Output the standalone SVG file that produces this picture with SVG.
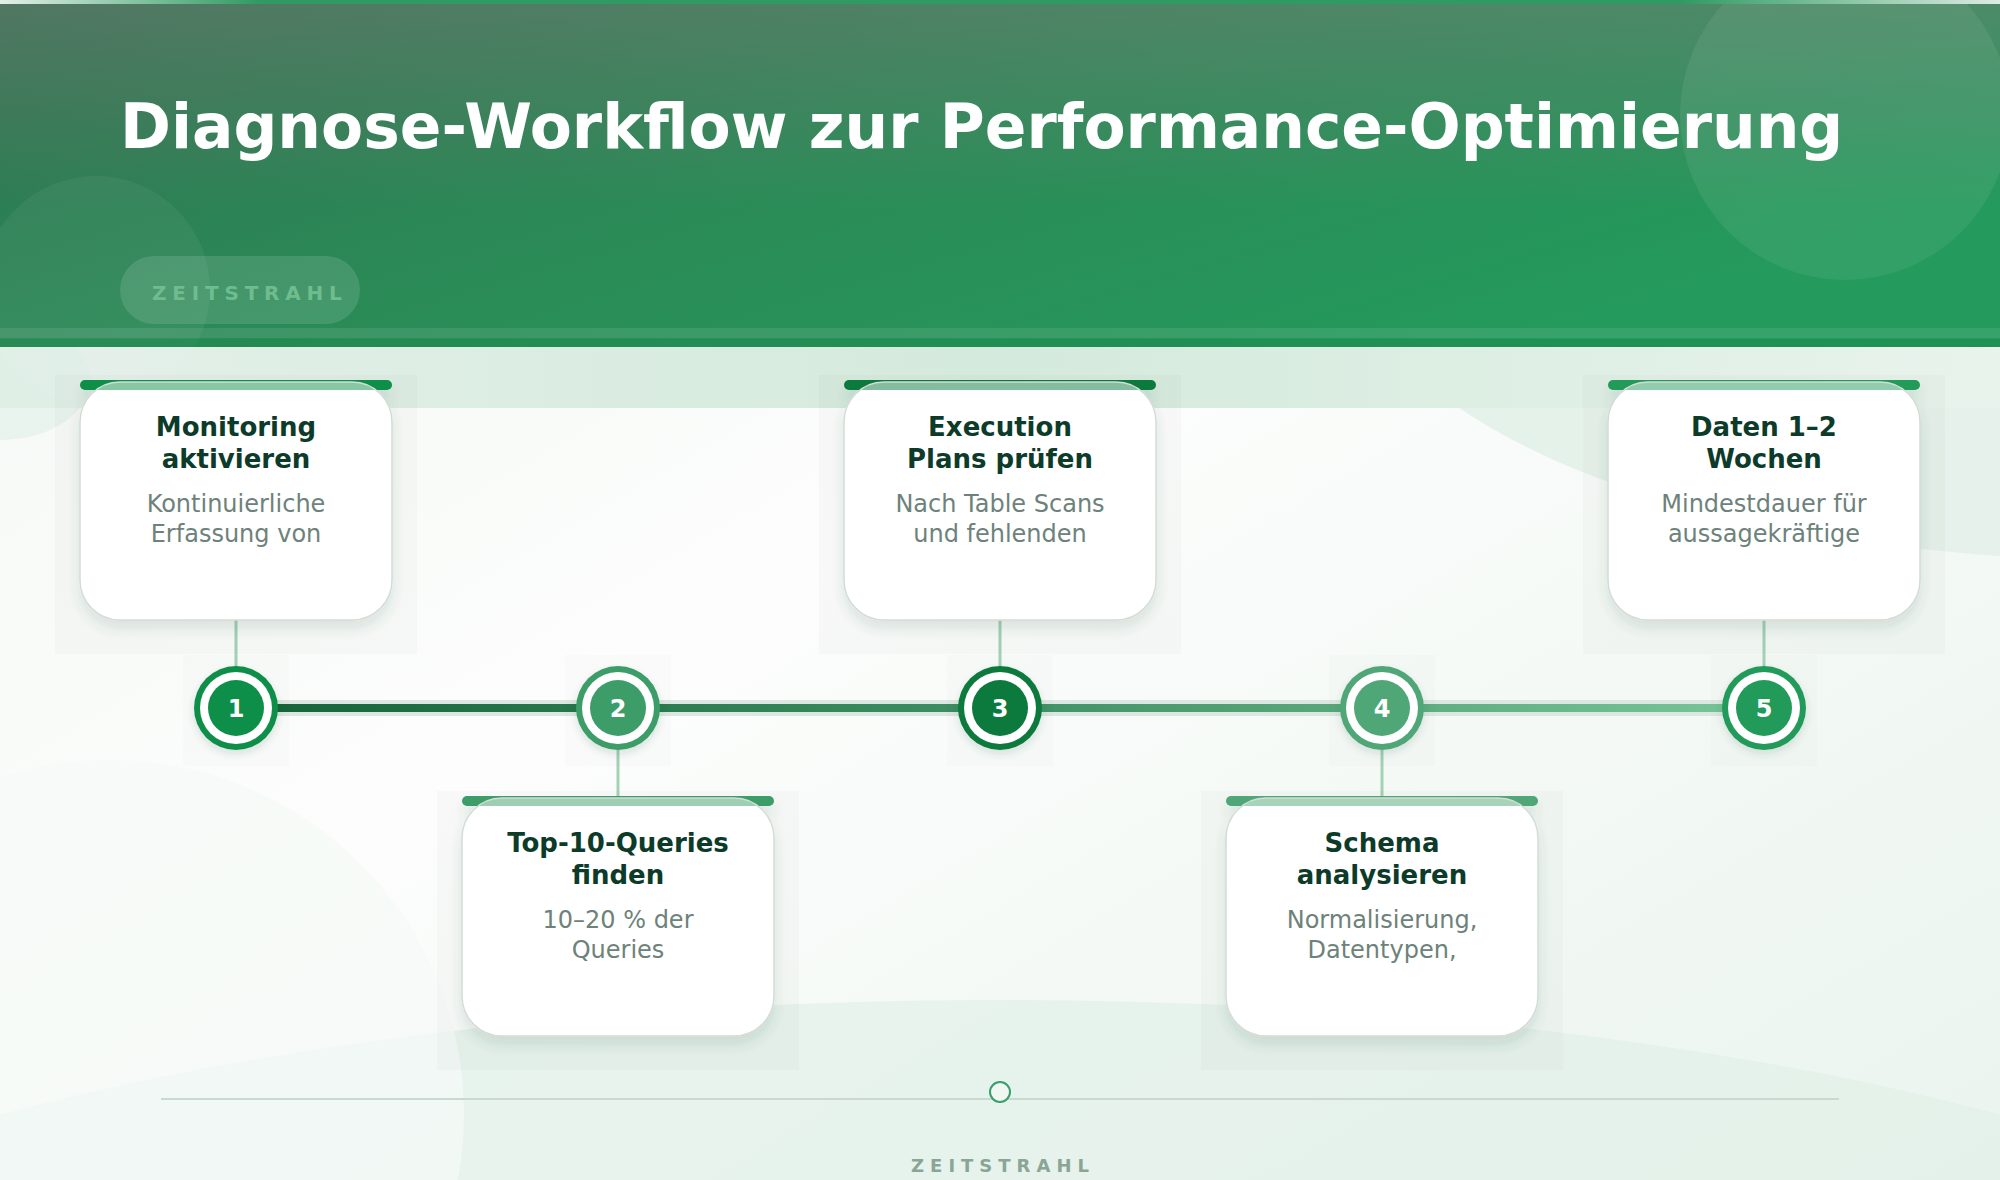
<svg xmlns="http://www.w3.org/2000/svg" width="2000" height="1180" viewBox="0 0 2000 1180">
<defs>
<linearGradient id="bgG" x1="0" y1="0" x2="1" y2="1">
<stop offset="0" stop-color="#f3f7f4"/><stop offset="0.45" stop-color="#fcfdfc"/><stop offset="1" stop-color="#eaf4ee"/>
</linearGradient>
<linearGradient id="hdG" x1="0" y1="0" x2="1" y2="0.6">
<stop offset="0" stop-color="#2f7150"/><stop offset="0.5" stop-color="#2b8a57"/><stop offset="1" stop-color="#249a5c"/>
</linearGradient>
<linearGradient id="hdTop" x1="0" y1="0" x2="0" y2="1">
<stop offset="0" stop-color="#8a8080" stop-opacity="0.38"/><stop offset="0.6" stop-color="#8a8080" stop-opacity="0"/>
</linearGradient>
<linearGradient id="topLine" x1="0" y1="0" x2="1" y2="0">
<stop offset="0" stop-color="#e3f0e8"/><stop offset="0.13" stop-color="#2f9a62"/><stop offset="0.84" stop-color="#2f9a62"/><stop offset="1" stop-color="#dcece2"/>
</linearGradient>
<linearGradient id="bandG" x1="0" y1="0" x2="1" y2="0">
<stop offset="0" stop-color="#e4f0e9"/><stop offset="0.5" stop-color="#d4eadc"/><stop offset="1" stop-color="#e8f3ec"/>
</linearGradient>
<linearGradient id="lineG" gradientUnits="userSpaceOnUse" x1="236" y1="0" x2="1764" y2="0">
<stop offset="0" stop-color="#136336"/><stop offset="0.5" stop-color="#3f9062"/><stop offset="1" stop-color="#78c699"/>
</linearGradient>
<linearGradient id="cardFill" x1="0" y1="0" x2="0" y2="1">
<stop offset="0" stop-color="#ffffff" stop-opacity="0.5"/><stop offset="0.034" stop-color="#ffffff" stop-opacity="0.5"/><stop offset="0.036" stop-color="#ffffff" stop-opacity="1"/><stop offset="1" stop-color="#ffffff" stop-opacity="1"/>
</linearGradient>
<filter id="cs" x="-8%" y="-2%" width="116%" height="116%">
<feFlood flood-color="#1d4a33" flood-opacity="0.018" result="bg"/>
<feGaussianBlur in="SourceAlpha" stdDeviation="7" result="b"/>
<feOffset in="b" dy="8" result="o"/>
<feFlood flood-color="#2a4a3a" flood-opacity="0.13"/>
<feComposite in2="o" operator="in" result="s"/>
<feMerge><feMergeNode in="bg"/><feMergeNode in="s"/><feMergeNode in="SourceGraphic"/></feMerge>
</filter>
<filter id="ns" x="-13%" y="-13%" width="126%" height="131%">
<feFlood flood-color="#1d4a33" flood-opacity="0.012" result="bg"/>
<feGaussianBlur in="SourceAlpha" stdDeviation="4" result="b"/>
<feOffset in="b" dy="4" result="o"/>
<feFlood flood-color="#2a4a3a" flood-opacity="0.15"/>
<feComposite in2="o" operator="in" result="s"/>
<feMerge><feMergeNode in="bg"/><feMergeNode in="s"/><feMergeNode in="SourceGraphic"/></feMerge>
</filter>
</defs>
<style>
.ttl{font-family:"DejaVu Sans",sans-serif;font-weight:bold;font-size:26px;fill:#0d3b2a;text-anchor:middle}
.dsc{font-family:"DejaVu Sans",sans-serif;font-size:24px;fill:#6d827a;text-anchor:middle}
.num{font-family:"DejaVu Sans",sans-serif;font-weight:bold;font-size:24px;fill:#ffffff;text-anchor:middle}
.card{fill:url(#cardFill);stroke:#d3dcd7;stroke-width:1.5}
.stem{stroke:#a3d2b7;stroke-width:3}
</style>

<!-- background -->
<rect x="0" y="0" width="2000" height="1180" fill="url(#bgG)"/>
<path d="M1385,347 Q1560,525 2000,556 L2000,347 Z" fill="#e2f0e7" opacity="0.85"/>
<ellipse cx="1000" cy="1450" rx="1500" ry="450" fill="#e2f0e8" opacity="0.75"/>
<circle cx="110" cy="1114" r="354" fill="#f6f9f7" opacity="0.75"/>
<rect x="0" y="347" width="2000" height="61" fill="url(#bandG)"/>
<ellipse cx="0" cy="380" rx="90" ry="60" fill="#dcede3" opacity="0.5"/>

<!-- header -->
<rect x="0" y="0" width="2000" height="347" fill="url(#hdG)"/>
<rect x="0" y="0" width="2000" height="347" fill="url(#hdTop)"/>
<circle cx="96" cy="290" r="114" fill="#ffffff" opacity="0.05"/>
<circle cx="1845" cy="115" r="165" fill="#ffffff" opacity="0.07"/>
<rect x="0" y="328" width="2000" height="10" fill="#ffffff" opacity="0.09"/>
<rect x="0" y="339" width="2000" height="8" fill="#1e8a50" opacity="0.55"/>
<rect x="0" y="0" width="2000" height="4" fill="url(#topLine)"/>
<text x="120" y="148" font-family="DejaVu Sans, sans-serif" font-weight="bold" font-size="61.4" fill="#ffffff">Diagnose-Workflow zur Performance-Optimierung</text>
<rect x="120" y="256" width="240" height="68" rx="34" fill="#ffffff" opacity="0.12"/>
<text x="152" y="300" font-family="DejaVu Sans, sans-serif" font-weight="bold" font-size="20" letter-spacing="5.8" fill="#6fbc8f">ZEITSTRAHL</text>

<!-- connectors -->
<g id="connectors">
<line x1="236" y1="708" x2="1764" y2="708" stroke="#dde7e1" stroke-width="16"/>
<line x1="236" y1="708" x2="1764" y2="708" stroke="url(#lineG)" stroke-width="8"/>
<line class="stem" x1="236" y1="620" x2="236" y2="666"/>
<line class="stem" x1="618" y1="750" x2="618" y2="796"/>
<line class="stem" x1="1000" y1="620" x2="1000" y2="666"/>
<line class="stem" x1="1382" y1="750" x2="1382" y2="796"/>
<line class="stem" x1="1764" y1="620" x2="1764" y2="666"/>
</g>

<!-- step 1 -->
<g id="step1">
<g filter="url(#cs)">
<rect x="80" y="380" width="312" height="10" rx="5" fill="#0f8f4a"/>
<rect class="card" x="80" y="382" width="312" height="238" rx="40"/>
</g>
<text class="ttl" x="236" y="436">Monitoring</text>
<text class="ttl" x="236" y="468">aktivieren</text>
<text class="dsc" x="236" y="512">Kontinuierliche</text>
<text class="dsc" x="236" y="542">Erfassung von</text>
<g filter="url(#ns)">
<circle cx="236" cy="708" r="42" fill="#0f8f4a"/>
<circle cx="236" cy="708" r="36" fill="#ffffff"/>
<circle cx="236" cy="708" r="28" fill="#0f8f4a"/>
</g>
<text class="num" x="236" y="717">1</text>
</g>

<!-- step 2 -->
<g id="step2">
<g filter="url(#cs)">
<rect x="462" y="796" width="312" height="10" rx="5" fill="#3c9d68"/>
<rect class="card" x="462" y="798" width="312" height="238" rx="40"/>
</g>
<text class="ttl" x="618" y="852">Top-10-Queries</text>
<text class="ttl" x="618" y="884">finden</text>
<text class="dsc" x="618" y="928">10–20 % der</text>
<text class="dsc" x="618" y="958">Queries</text>
<g filter="url(#ns)">
<circle cx="618" cy="708" r="42" fill="#3c9d68"/>
<circle cx="618" cy="708" r="36" fill="#ffffff"/>
<circle cx="618" cy="708" r="28" fill="#3c9d68"/>
</g>
<text class="num" x="618" y="717">2</text>
</g>

<!-- step 3 -->
<g id="step3">
<g filter="url(#cs)">
<rect x="844" y="380" width="312" height="10" rx="5" fill="#0b7a3e"/>
<rect class="card" x="844" y="382" width="312" height="238" rx="40"/>
</g>
<text class="ttl" x="1000" y="436">Execution</text>
<text class="ttl" x="1000" y="468">Plans prüfen</text>
<text class="dsc" x="1000" y="512">Nach Table Scans</text>
<text class="dsc" x="1000" y="542">und fehlenden</text>
<g filter="url(#ns)">
<circle cx="1000" cy="708" r="42" fill="#0b7a3e"/>
<circle cx="1000" cy="708" r="36" fill="#ffffff"/>
<circle cx="1000" cy="708" r="28" fill="#0b7a3e"/>
</g>
<text class="num" x="1000" y="717">3</text>
</g>

<!-- step 4 -->
<g id="step4">
<g filter="url(#cs)">
<rect x="1226" y="796" width="312" height="10" rx="5" fill="#50a777"/>
<rect class="card" x="1226" y="798" width="312" height="238" rx="40"/>
</g>
<text class="ttl" x="1382" y="852">Schema</text>
<text class="ttl" x="1382" y="884">analysieren</text>
<text class="dsc" x="1382" y="928">Normalisierung,</text>
<text class="dsc" x="1382" y="958">Datentypen,</text>
<g filter="url(#ns)">
<circle cx="1382" cy="708" r="42" fill="#50a777"/>
<circle cx="1382" cy="708" r="36" fill="#ffffff"/>
<circle cx="1382" cy="708" r="28" fill="#50a777"/>
</g>
<text class="num" x="1382" y="717">4</text>
</g>

<!-- step 5 -->
<g id="step5">
<g filter="url(#cs)">
<rect x="1608" y="380" width="312" height="10" rx="5" fill="#239a5a"/>
<rect class="card" x="1608" y="382" width="312" height="238" rx="40"/>
</g>
<text class="ttl" x="1764" y="436">Daten 1–2</text>
<text class="ttl" x="1764" y="468">Wochen</text>
<text class="dsc" x="1764" y="512">Mindestdauer für</text>
<text class="dsc" x="1764" y="542">aussagekräftige</text>
<g filter="url(#ns)">
<circle cx="1764" cy="708" r="42" fill="#239a5a"/>
<circle cx="1764" cy="708" r="36" fill="#ffffff"/>
<circle cx="1764" cy="708" r="28" fill="#239a5a"/>
</g>
<text class="num" x="1764" y="717">5</text>
</g>

<!-- footer -->
<line x1="161" y1="1099" x2="1839" y2="1099" stroke="#c9d9d0" stroke-width="2"/>
<circle cx="1000" cy="1092" r="10" fill="#f0f7f3" stroke="#3a9e6a" stroke-width="2"/>
<text x="1003" y="1172" font-family="DejaVu Sans, sans-serif" font-weight="bold" font-size="18" letter-spacing="6" fill="#8aa596" text-anchor="middle">ZEITSTRAHL</text>
</svg>
